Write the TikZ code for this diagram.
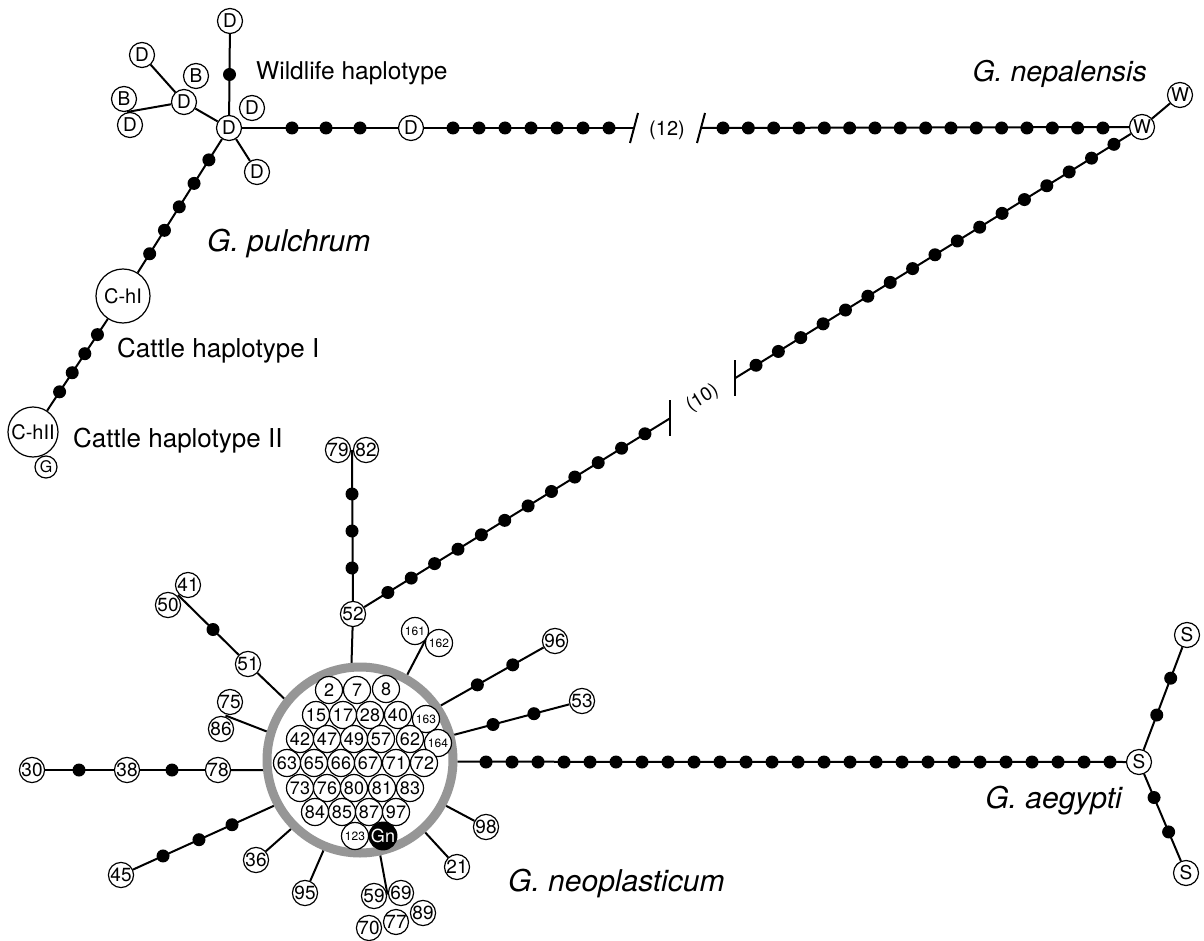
\documentclass[tikz,border=0pt]{standalone}
\usepackage{fontspec}
\setmainfont{TeX Gyre Heros}
\usetikzlibrary{calc}
\pgfdeclarelayer{bg}
\pgfdeclarelayer{paper}
\pgfsetlayers{paper,bg,main}
\definecolor{ringgray}{RGB}{150,150,150}
\begin{document}
\begin{tikzpicture}[x=1pt,y=-1pt,
  hap/.style={circle,draw,line width=1.2pt,fill=white,inner sep=0pt,minimum size=25pt,font=\fontsize{19}{19}\selectfont},
  hapr/.style={hap,minimum size=27pt,font=\fontsize{18}{18}\selectfont},
  haps/.style={hap,minimum size=27pt,font=\fontsize{12}{12}\selectfont},
  mut/.style={circle,fill=black,inner sep=0pt,minimum size=13pt},
  conn/.style={line width=2pt},
  lab/.style={font=\fontsize{26}{26}\selectfont,anchor=base west,inner sep=0pt},
  spec/.style={font=\fontsize{30}{30}\selectfont\itshape,inner sep=0pt},
]
\begin{pgfonlayer}{paper}
\fill[white] (0,0) rectangle (1204,941);
\end{pgfonlayer}
\useasboundingbox (0,0) rectangle (1204,941);

% ---------- G. pulchrum cluster ----------
\node[hap] (hub) at (229,128) {D};
\node[hap] (Dtop) at (230,21) {D};
\node[hap] (Dur) at (252,108) {D};
\node[hap] (Dlr) at (257,172) {D};
\node[hap] (Dsec) at (184,102) {D};
\node[hap] (Bsec) at (196,76) {B};
\node[hap] (Dul) at (142,55) {D};
\node[hap] (Bl) at (124,99) {B};
\node[hap] (Dll) at (130,125) {D};
\coordinate (jBD) at ($(Bl)!0.5!(Dll)$);
\node[mut] (m0) at ($(hub)!0.5!(Dtop)$) {};
\node[hap] (D2) at (411,128) {D};
\foreach \x in {292,326,360} \node[mut] (h\x) at (\x,128) {};
\foreach \x in {453,479,505,531,557,583,609} \node[mut] (e\x) at (\x,128) {};
\coordinate (b1) at (634,128);
\coordinate (b2) at (701,128);
\draw[conn] ($(b1)+(4,-15)$) -- ($(b1)+(-4,15)$);
\draw[conn] ($(b2)+(4,-15)$) -- ($(b2)+(-4,15)$);
\node[font=\fontsize{20}{20}\selectfont] (l12) at (667,130) {(12)};
\node[hap] (W) at (1142,127) {W};
\node[hap] (Wu) at (1180,95) {W};
\foreach \i in {0,...,15} {
  \pgfmathsetmacro\xx{723+\i*25.33}
  \node[mut] (f\i) at (\xx,128) {};
}

\node[hap,minimum size=54pt,font=\fontsize{20}{20}\selectfont] (CI) at (123,296) {C-hI};
\node[hap,minimum size=50pt,font=\fontsize{20}{20}\selectfont] (CII) at (33,432) {C-hII};
\node[hap,minimum size=22pt,font=\fontsize{16}{16}\selectfont] (G) at (46,467) {G};
\foreach \d [count=\k] in {37.7,65.5,93.2,121,148.7}
  \node[mut] (p\k) at ($(hub)!\d pt!(CI)$) {};
\foreach \d [count=\k] in {46.3,69.2,92,114.9}
  \node[mut] (q\k) at ($(CI)!\d pt!(CII)$) {};

% ---------- labels ----------
\node[lab,font=\fontsize{24.5}{24.5}\selectfont] (lw) at (256,80) {Wildlife haplotype};
\node[lab] (lc1) at (117,357) {Cattle haplotype I};
\node[lab] (lc2) at (73,447) {Cattle haplotype II};
\node[spec,anchor=base west] (sp) at (207,252) {G. pulchrum};
\node[spec,anchor=base east,font=\fontsize{28.5}{28.5}\selectfont\itshape] (sn) at (1147,82) {G. nepalensis};
\node[spec,anchor=base east] (sa) at (1122,808) {G. aegypti};
\node[spec,anchor=base west] (sneo) at (508,891) {G. neoplasticum};

% ---------- G. neoplasticum ring ----------
\node[circle,draw=ringgray,line width=9pt,minimum size=186pt,inner sep=0pt] (ring) at (360,760) {};
\node[hapr] (r2) at (329,690) {2};
\node[hapr] (r7) at (357,690) {7};
\node[hapr] (r8) at (386,689) {8};
\node[hapr] (r15) at (316,715) {15};
\node[hapr] (r17) at (343,715) {17};
\node[hapr] (r28) at (370,715) {28};
\node[hapr] (r40) at (398,715) {40};
\node[haps] (r163) at (426,719) {163};
\node[hapr] (r42) at (300,739) {42};
\node[hapr] (r47) at (327,739) {47};
\node[hapr] (r49) at (354,739) {49};
\node[hapr] (r57) at (381,739) {57};
\node[hapr] (r62) at (410,739) {62};
\node[haps] (r164) at (438,743) {164};
\node[hapr] (r63) at (287,763) {63};
\node[hapr] (r65) at (314,763) {65};
\node[hapr] (r66) at (341,763) {66};
\node[hapr] (r67) at (368,763) {67};
\node[hapr] (r71) at (396,763) {71};
\node[hapr] (r72) at (424,763) {72};
\node[hapr] (r73) at (300,788) {73};
\node[hapr] (r76) at (327,788) {76};
\node[hapr] (r80) at (354,788) {80};
\node[hapr] (r81) at (382,788) {81};
\node[hapr] (r83) at (410,788) {83};
\node[hapr] (r84) at (315,812) {84};
\node[hapr] (r85) at (342,812) {85};
\node[hapr] (r87) at (369,812) {87};
\node[hapr] (r97) at (396,812) {97};
\node[haps] (r123) at (355,836) {123};
\node[hapr,fill=black,text=white] (Gn) at (383,836) {Gn};

% spokes
\node[hap] (n52) at (353,614) {52};
\node[hap] (n79) at (338,450) {79};
\node[hap] (n82) at (366,450) {82};
\coordinate (j7982) at (352,450);
\foreach \y in {568,531,494} \node[mut] (v\y) at (352,\y) {};
\coordinate (c1) at ($(n52)!0.40177!(W)$);
\coordinate (c2) at ($(n52)!0.48416!(W)$);
\draw[conn] ($(c1)+(0,-18)$) -- ($(c1)+(0,18)$);
\draw[conn] ($(c2)+(0,-18)$) -- ($(c2)+(0,18)$);
\node[font=\fontsize{19}{19}\selectfont,rotate=31.7,inner sep=0pt] (l10) at ($(c1)!0.5!(c2)$) {(10)};
\foreach \i in {0,...,11} {
  \pgfmathsetmacro\tt{0.110+\i*0.07373}
  \node[mut] (da\i) at ($(n52)!\tt!(c1)$) {};
}
\foreach \i in {0,...,16} {
  \pgfmathsetmacro\tt{0.0516+\i*0.05496}
  \node[mut] (db\i) at ($(c2)!\tt!(W)$) {};
}

\node[haps] (n161) at (415,631) {161};
\node[haps] (n162) at (439,643) {162};
\coordinate (j161) at ($(n161)!0.5!(n162)$);
\node[hap] (n96) at (555,641) {96};
\foreach \t [count=\k] in {0.32,0.63} \node[mut] (g\k) at ($(ring.34.5)!\t!(n96)$) {};
\node[hap] (n53) at (582,701) {53};
\foreach \t [count=\k] in {0.304,0.624} \node[mut] (k\k) at ($(ring.15)!\t!(n53)$) {};

\node[hap] (S) at (1139,762) {S};
\node[hap] (Su) at (1187,635) {S};
\node[hap] (Sd) at (1186,873) {S};
\foreach \i in {0,...,24} {
  \pgfmathsetmacro\xx{486+\i*26}
  \node[mut] (s\i) at (\xx,762) {};
}
\foreach \t [count=\k] in {0.37,0.66} \node[mut] (su\k) at ($(S)!\t!(Su)$) {};
\foreach \t [count=\k] in {0.32,0.63} \node[mut] (sd\k) at ($(S)!\t!(Sd)$) {};

\node[hap] (n98) at (486,827) {98};
\node[hap] (n21) at (457,867) {21};
\node[hap] (n59) at (374,896) {59};
\node[hap] (n69) at (401,893) {69};
\node[hap] (n70) at (369,928) {70};
\node[hap] (n77) at (396,922) {77};
\node[hap] (n89) at (423,913) {89};
\coordinate (j5969) at ($(n59)!0.5!(n69)$);
\node[hap] (n95) at (305,893) {95};
\node[hap] (n36) at (256,860) {36};
\node[hap] (n45) at (121,875) {45};
\foreach \t [count=\k] in {0.274,0.49,0.725} \node[mut] (t\k) at ($(ring.-152)!\t!(n45)$) {};
\node[hap] (n78) at (218,770) {78};
\node[hap] (n38) at (127,770) {38};
\node[hap] (n30) at (32,770) {30};
\node[mut] (u1) at (172,770) {};
\node[mut] (u2) at (79,770) {};
\node[hap] (n75) at (230,702) {75};
\node[hap] (n86) at (221,729) {86};
\coordinate (j7586) at ($(n75)!0.5!(n86)$);
\node[hap] (n51) at (248,664) {51};
\node[hap] (n41) at (188,585) {41};
\node[hap] (n50) at (168,605) {50};
\coordinate (j4150) at ($(n41)!0.5!(n50)$);
\node[mut] (w1) at ($(n51)!0.5!(j4150)$) {};

% ---------- connectors ----------
\begin{pgfonlayer}{bg}
\draw[conn] (hub) -- (Dtop);
\draw[conn] (hub) -- (Dlr);
\draw[conn] (hub) -- (Dsec);
\draw[conn] (Dsec) -- (Dul);
\draw[conn] (Dsec) -- (jBD);
\draw[conn] (hub) -- (D2);
\draw[conn] (D2) -- (b1);
\draw[conn] (b2) -- (W);
\draw[conn] (W) -- (Wu);
\draw[conn] (hub) -- (CI);
\draw[conn] (CI) -- (CII);
\draw[conn] (n52) -- (c1);
\draw[conn] (c2) -- (W);
\draw[conn] (n52) -- (ring.95);
\draw[conn] (n52) -- (j7982);
\draw[conn] (ring.61) -- (j161);
\draw[conn] (ring.34.5) -- (n96);
\draw[conn] (ring.15) -- (n53);
\draw[conn] (ring.-1) -- (S);
\draw[conn] (S) -- (Su);
\draw[conn] (S) -- (Sd);
\draw[conn] (ring.-28) -- (n98);
\draw[conn] (ring.-48) -- (n21);
\draw[conn] (ring.-78) -- (j5969);
\draw[conn] (ring.-112) -- (n95);
\draw[conn] (ring.-135) -- (n36);
\draw[conn] (ring.-152) -- (n45);
\draw[conn] (ring.-174) -- (n78);
\draw[conn] (n78) -- (n38);
\draw[conn] (n38) -- (n30);
\draw[conn] (ring.163) -- (j7586);
\draw[conn] (ring.141) -- (n51);
\draw[conn] (n51) -- (j4150);
\end{pgfonlayer}
\end{tikzpicture}
\end{document}
